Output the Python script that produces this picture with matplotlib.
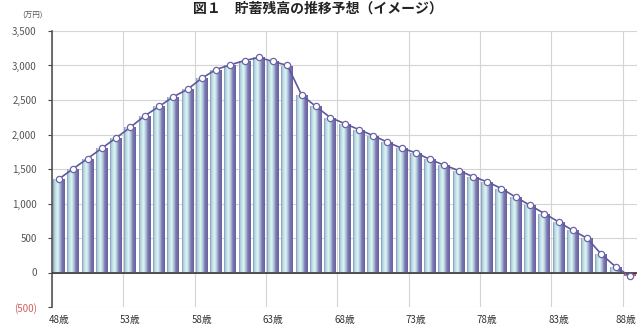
import numpy as np
import matplotlib
matplotlib.use("Agg")
import matplotlib.pyplot as plt
from matplotlib.colors import LinearSegmentedColormap

plt.rcParams['font.family'] = ['Noto Sans CJK JP', 'DejaVu Sans']

ages = list(range(48, 89))
balance = [1358, 1507, 1652, 1802, 1952, 2106, 2271, 2406, 2546, 2655,
           2816, 2942, 3010, 3072, 3116, 3058, 3000, 2570, 2406, 2246,
           2159, 2072, 1985, 1889, 1802, 1735, 1638, 1555, 1478, 1390,
           1314, 1217, 1092, 975, 855, 734, 609, 497, 265, 83, -54]
xtick_ages = [48, 53, 58, 63, 68, 73, 78, 83, 88]
xtick_labels = [f"{a}歳" for a in xtick_ages]
yticks = [-500, 0, 500, 1000, 1500, 2000, 2500, 3000, 3500]
ytick_labels = ["(500)", "0", "500", "1,000", "1,500", "2,000", "2,500", "3,000", "3,500"]
title = "図１　貯蓄残高の推移予想（イメージ）"
unit = "(万円)"

W, H = 637, 329
fig = plt.figure(figsize=(W / 100, H / 100), dpi=100)
ax = fig.add_axes([52 / W, (H - 307) / H, (637 - 52) / W, (307 - 31) / H])

ax.set_xlim(47.5, 88.5)
ax.set_ylim(-500, 3500)

# grid
ax.set_yticks(yticks)
ax.set_xticks([a + 0.5 for a in range(47, 88, 5)])
ax.grid(True, color='#d4d4d4', linewidth=0.8, zorder=0)
ax.set_xticklabels([])
ax.tick_params(axis='x', length=0)
ax.set_yticklabels(ytick_labels)
ax.tick_params(axis='y', length=3, width=0.8, color='#444444', labelsize=7, labelcolor='#555555', pad=8)
for lbl in ax.get_yticklabels():
    if lbl.get_text().startswith('('):
        lbl.set_color('#d06060')

for s in ['top', 'right', 'bottom']:
    ax.spines[s].set_visible(False)
ax.spines['left'].set_color('#555555')
ax.spines['left'].set_linewidth(1.2)

# gradient bars
cmap = LinearSegmentedColormap.from_list('cyl', [
    (0.0, '#8a86bb'), (0.1, '#a6d4da'), (0.38, '#e4f4f4'),
    (0.58, '#aac6dc'), (0.74, '#7f7ab3'), (1.0, '#67619f')])
neg_cmap = LinearSegmentedColormap.from_list('neg', ['#c06060', '#f0b0b0', '#b04848'])
grad = np.linspace(0, 1, 64).reshape(1, -1)
bw = 0.84
bars = ax.bar(ages, balance, width=bw, color='none', edgecolor='none', zorder=2)
for rect, v in zip(bars, balance):
    x0 = rect.get_x()
    y0, y1 = (0, v) if v >= 0 else (v, 0)
    im = ax.imshow(grad, cmap=cmap if v >= 0 else neg_cmap, aspect='auto',
                   extent=[x0, x0 + bw, y0, y1], zorder=2, interpolation='bilinear')
    im.set_clip_path(rect)

ax.set_xlim(47.5, 88.5)
ax.set_ylim(-500, 3500)

# zero line
ax.axhline(0, color='#333333', linewidth=1.2, zorder=3)

# line with markers
ax.plot(ages, balance, color='#5f58a0', linewidth=1.2, marker='o', markersize=4.5,
        markerfacecolor='white', markeredgecolor='#6a64a8', markeredgewidth=0.9, zorder=4)

# x labels
for a, lab in zip(xtick_ages, xtick_labels):
    if a == xtick_ages[-1]:
        ax.text(88.45, -620, lab, ha='right', va='top', fontsize=7, color='#333333',
                clip_on=False)
    else:
        ax.text(a, -620, lab, ha='center', va='top', fontsize=7, color='#333333',
                clip_on=False)

fig.text(22 / W, 1 - 16 / H, unit, fontsize=5.5, color='#555555', ha='left', va='center')
fig.text(318 / W, 1 - 2 / H, title, fontsize=10, fontweight='bold', color='#222222',
         ha='center', va='top')

fig.savefig('out.png', dpi=100)
